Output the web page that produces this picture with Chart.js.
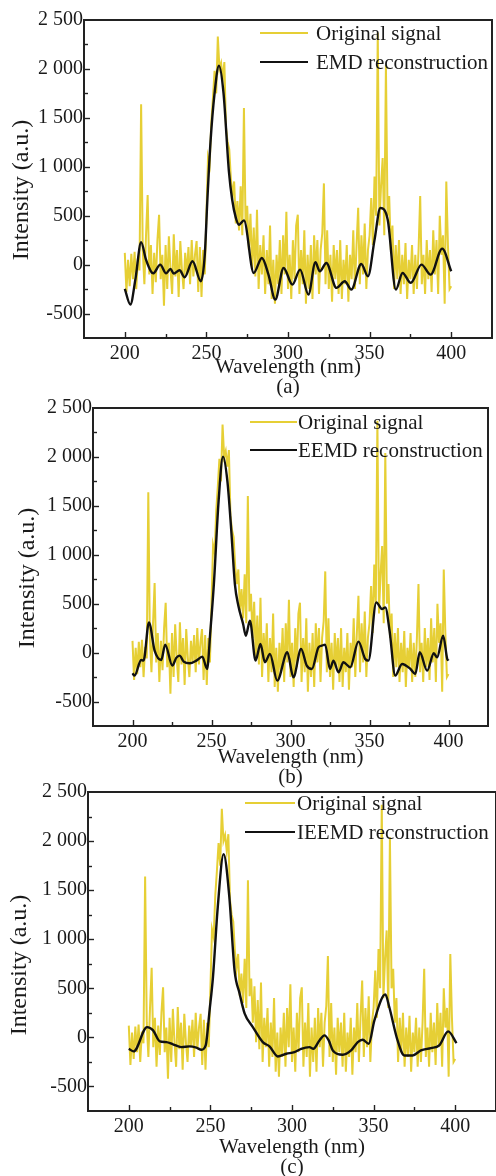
<!DOCTYPE html>
<html>
<head>
<meta charset="utf-8">
<script src="https://cdn.jsdelivr.net/npm/chart.js@4.4.1/dist/chart.umd.min.js"></script>
<style>
  html, body { margin: 0; padding: 0; background: #fff; overflow: hidden; width: 496px; height: 1176px; }
  .panel { position: absolute; left: 0; }
</style>
</head>
<body>
<div class="panel" style="top:0"><canvas id="chartA" width="496" height="398"></canvas></div>
<div class="panel" style="top:388px"><canvas id="chartB" width="496" height="400"></canvas></div>
<div class="panel" style="top:772px"><canvas id="chartC" width="500" height="406"></canvas></div>
<script>
// wavelength grid of the measured spectrum (1 nm step)
const wavelengths = Array.from({ length: 201 }, (_, i) => 200 + i);

// original (noisy) signal, 200..400 nm
const originalSignal = [
  120, -280, 50, -220, 110, -150, 130, -250, 60, -60,
  1640, 150, -200, 300, 710, -100, 200, -300, 120, -180,
  250, 510, -150, 100, -420, 200, -250, 290, -50, -300,
  310, -120, 150, -330, 240, -50, -250, 120, -100, 180,
  -200, 250, -120, 100, 240, -280, 180, -330, 150, -100,
  500, 1100, 1020, 1450, 1700, 1980, 1750, 2330, 2000, 2060,
  1900, 2070, 1400, 1250, 1180, 880, 700, 850, 420, 650,
  350, 800, 300, 1600, 420, 600, 150, 520, -50, 380,
  -120, 560, -250, 200, -100, 300, -300, 150, -200, 400,
  -350, 50, -400, 100, -200, 250, -300, 300, -100, 540,
  -250, 100, -350, 250, -150, 400, 510, -300, 150, -200,
  350, -400, 100, -250, 200, -350, 300, -100, 250, -300,
  150, 320, 830, -200, 350, -250, 100, -380, 200, -150,
  150, -300, 250, -350, 50, -200, 200, -380, 100, -150,
  350, -250, 200, 580, -200, 300, -100, 420, -250, 150,
  300, 680, 200, 900, 500, 2370, 400, 800, 1090, 300,
  2040, 500, 700, 150, 400, -250, 200, -150, 250, -300,
  100, -200, 220, -350, 50, -150, 200, -300, 100, -250,
  150, 700, -200, 100, -300, 250, -150, 150, -280, 350,
  -100, 250, -300, 500, 100, 300, -400, 850, 200, -250,
  -220
];

// EMD reconstruction (a)
const emdX = [200, 203.4, 206.5, 210, 213, 216, 217.5, 221.7, 225.3, 228, 230, 233.6, 236.6, 241.5, 246.6, 249,
  250.6, 252.5, 255, 257.7, 260.5, 263.8, 265.8, 268, 270, 273, 279, 284, 288, 292.2, 297.3, 302.7, 307.4,
  312.5, 316.8, 319.5, 323.5, 329.7, 334.8, 338.8, 344.9, 349, 353, 356.6, 361.1, 366.1, 370.2, 375.2,
  381.8, 387.4, 394.5, 400];
const emdY = [-248, -408, -150, 228, 50, -68, -88, 0, -88, -44, -92, -58, -129, 34, -170, 100,
  663, 1250, 1750, 2033, 1750, 950, 663, 480, 408, 452, -85, 68, -100, -357, -34, -204, -51,
  -306, 24, -68, 17, -238, -170, -255, 7, -119, 250, 578, 459, -255, -85, -187,
  0, -102, 163, -68];

// EEMD reconstruction (b)
const eemdX = [200, 201.3, 205.5, 207, 210.4, 214, 218.2, 220.7, 225.2, 227.7, 229.8, 232.4, 236.2, 240.4, 244.2,
  247.2, 249.3, 251.5, 254.5, 257.3, 260, 262.5, 264.8, 267, 270, 271.7, 274.3, 277.9, 281, 283.8, 287,
  291.6, 298, 301.8, 306.7, 310.3, 313.5, 317.7, 319.8, 321.9, 325, 327.2, 330.4, 333.5, 337.8, 343,
  347.3, 349.3, 354.3, 357.9, 360, 362.7, 366.3, 370.6, 375.9, 379, 381.8, 386.5, 390.7, 392.8, 396.6,
  399.2, 400];
const eemdY = [-211, -235, -75, -82, 309, 20, -75, 82, -133, -54, -31, -92, -109, -82, -41,
  -167, 224, 700, 1550, 2003, 1760, 1250, 700, 480, 293, 173, 326, -82, 88, -99, -14,
  -286, 3, -252, 37, -133, -167, 54, 71, 82, -167, -82, -201, -99, -150, 112,
  -65, -82, 513, 446, 462, 224, -235, -116, -167, -218, 3, -184, -7, -48, 173,
  -65, -82];

// IEEMD reconstruction (c)
const ieemdX = [200, 203, 211.2, 214.9, 219, 223, 227.1, 232.2, 237.3, 241.4, 244.5, 247.1, 249.5, 251.6,
  254.5, 258.1, 261.5, 264.8, 267.9, 271, 276, 282.1, 286.2, 291.3, 296.5, 301.5, 305.6, 310.7, 313.1,
  316.8, 319.9, 322.5, 325, 331.1, 336.2, 340.3, 343.3, 347, 350.5, 357.2, 359.6, 364.7, 368.8, 373.9,
  379, 385.1, 390.2, 395.7, 400.8];
const ieemdY = [-116, -143, 105, 71, -41, -48, -71, -99, -92, -105, -126, -82, 275, 620,
  1325, 1867, 1450, 683, 446, 242, 105, -48, -92, -194, -167, -150, -116, -99, -116,
  -31, 20, -31, -133, -177, -133, -48, -24, -65, 173, 438, 309, -31, -184, -184,
  -133, -109, -82, 61, -58];

const yellow = '#E6CF35';
const serif = '"Liberation Serif", "Times New Roman", serif';
const textColor = '#1a1a1a';

const fmtIntensity = v => {
  if (Math.abs(v) >= 1000) return Math.trunc(v / 1000) + ' ' + String(Math.abs(v) % 1000).padStart(3, '0');
  return String(v);
};

const panelDecor = {
  id: 'panelDecor',
  afterDraw(chart, args, opts) {
    const { ctx, chartArea: a, scales: { x, y } } = chart;
    ctx.save();
    ctx.strokeStyle = '#222';
    ctx.lineWidth = 2;
    ctx.strokeRect(a.left, a.top, a.right - a.left, a.bottom - a.top);

    // inward tick marks
    ctx.lineWidth = 1.4;
    x.ticks.forEach(t => {
      if (t.value <= x.min || t.value >= x.max) return;
      const px = Math.round(x.getPixelForValue(t.value)) + 0.5;
      const len = t.value % 50 === 0 ? 6 : 4;
      ctx.beginPath(); ctx.moveTo(px, a.bottom); ctx.lineTo(px, a.bottom - len); ctx.stroke();
    });
    y.ticks.forEach(t => {
      if (t.value <= y.min || t.value >= y.max) return;
      const py = Math.round(y.getPixelForValue(t.value)) + 0.5;
      const len = t.value % 500 === 0 ? 6 : 4;
      ctx.beginPath(); ctx.moveTo(a.left, py); ctx.lineTo(a.left + len, py); ctx.stroke();
    });

    // y axis title
    ctx.fillStyle = textColor;
    ctx.font = opts.yTitle.size + 'px ' + serif;
    ctx.save();
    ctx.translate(opts.yTitle.x, opts.yTitle.y);
    ctx.rotate(-Math.PI / 2);
    ctx.textAlign = 'center';
    ctx.textBaseline = 'middle';
    ctx.fillText('Intensity (a.u.)', 0, 0);
    ctx.restore();

    // legend inside the plot
    const lg = opts.legend;
    ctx.font = '21px ' + serif;
    ctx.textAlign = 'left';
    ctx.textBaseline = 'alphabetic';
    chart.data.datasets.forEach((ds, i) => {
      const ly = lg.rows[i];
      ctx.strokeStyle = ds.borderColor;
      ctx.lineWidth = 2.2;
      ctx.beginPath(); ctx.moveTo(lg.x0, ly); ctx.lineTo(lg.x1, ly); ctx.stroke();
      ctx.fillText(ds.label, lg.textX, ly + 7);
    });
    ctx.restore();
  }
};

function makePanel(id, reconLabel, reconX, reconY, lay) {
  new Chart(document.getElementById(id), {
    type: 'line',
    data: {
      datasets: [{
        label: 'Original signal',
        data: wavelengths.map((w, i) => ({ x: w, y: originalSignal[i] })),
        borderColor: yellow,
        borderWidth: 2,
        pointRadius: 0,
        tension: 0,
        order: 2
      }, {
        label: reconLabel,
        data: reconX.map((w, i) => ({ x: w, y: reconY[i] })),
        borderColor: '#111',
        borderWidth: 2.4,
        pointRadius: 0,
        cubicInterpolationMode: 'monotone',
        order: 1
      }]
    },
    options: {
      responsive: false,
      animation: false,
      layout: { padding: { top: lay.top, right: lay.right, left: 0, bottom: 0 } },
      plugins: {
        legend: { display: false },
        tooltip: { enabled: false },
        panelDecor: { legend: lay.legend, yTitle: lay.yTitle }
      },
      scales: {
        x: {
          type: 'linear',
          min: 175,
          max: 425,
          afterFit: s => { s.height = lay.axisH; },
          grid: { display: false, drawTicks: false },
          border: { display: false },
          ticks: {
            stepSize: 25,
            autoSkip: false,
            maxRotation: 0,
            padding: 4,
            color: textColor,
            font: { family: serif, size: 20 },
            callback: v => (v % 50 === 0 && v >= 200 && v <= 400) ? String(v) : ''
          },
          title: {
            display: true,
            text: ['Wavelength (nm)', lay.caption],
            color: textColor,
            padding: 0,
            font: { family: serif, size: 21, lineHeight: 0.97 }
          }
        },
        y: {
          min: -750,
          max: 2500,
          afterFit: s => { s.width = lay.left; },
          grid: { display: false, drawTicks: false },
          border: { display: false },
          ticks: {
            stepSize: 250,
            autoSkip: false,
            padding: 1,
            color: textColor,
            font: { family: serif, size: 20 },
            callback: v => v % 500 === 0 ? fmtIntensity(v) : ''
          }
        }
      }
    },
    plugins: [panelDecor]
  });
}

makePanel('chartA', 'EMD reconstruction', emdX, emdY, {
  top: 20, right: 1, left: 84, axisH: 60, caption: '(a)',
  yTitle: { x: 22, y: 190, size: 24 },
  legend: { x0: 260, x1: 308, textX: 316, rows: [33, 62] }
});
makePanel('chartB', 'EEMD reconstruction', eemdX, eemdY, {
  top: 20, right: 8, left: 93, axisH: 62, caption: '(b)',
  yTitle: { x: 28, y: 190, size: 24 },
  legend: { x0: 250, x1: 297, textX: 298, rows: [34, 62] }
});
makePanel('chartC', 'IEEMD reconstruction', ieemdX, ieemdY, {
  top: 20, right: 3, left: 88, axisH: 67, caption: '(c)',
  yTitle: { x: 20, y: 193, size: 24 },
  legend: { x0: 245, x1: 295, textX: 297, rows: [31, 60] }
});
</script>
</body>
</html>
